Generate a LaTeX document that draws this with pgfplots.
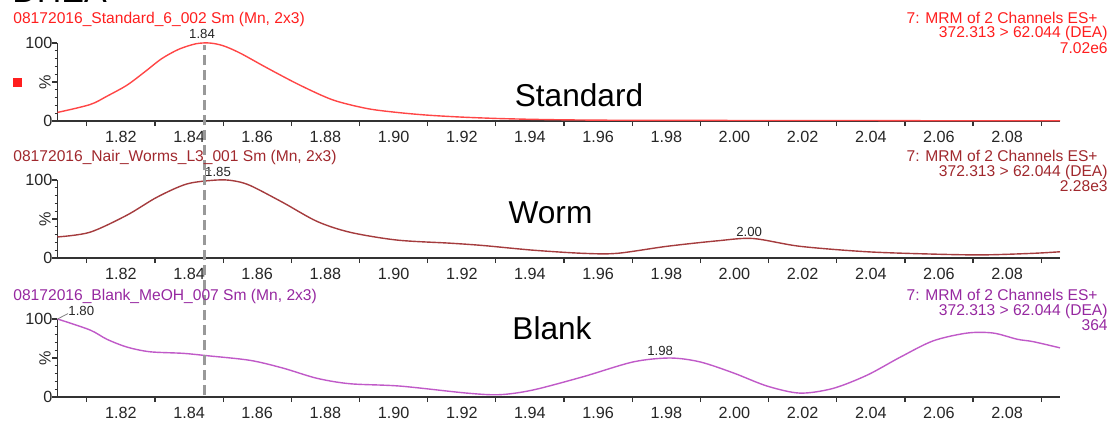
\documentclass[border=0pt]{standalone}
\usepackage{pgfplots}
\pgfplotsset{compat=1.18}
\usepackage{fontspec}
\setmainfont{Liberation Sans}
\definecolor{stdred}{RGB}{255,30,30}
\definecolor{stdline}{RGB}{255,70,70}
\definecolor{wormc}{RGB}{160,40,45}
\definecolor{wormline}{RGB}{165,60,62}
\definecolor{blankc}{RGB}{150,40,160}
\definecolor{blankline}{RGB}{192,90,200}
\newcommand\tf{\fontsize{7.8}{9}\selectfont}
\newcommand\kf{\fontsize{8.1}{9}\selectfont}
\newcommand\af{\fontsize{6.6}{7}\selectfont}
\newcommand\bigf{\fontsize{15.8}{18}\selectfont}
\pgfplotsset{
  chrom/.style={
    scale only axis, width=501.25pt, height=39pt,
    xmin=1.8014, xmax=2.0955, ymin=0, ymax=100,
    axis x line*=bottom, axis y line*=left,
    axis line style={-, line width=0.7pt, black!80},
    every outer x axis line/.append style={-},
    every outer y axis line/.append style={-},
    tick align=outside, clip=false,
    tick style={black!80, line width=0.6pt},
    major tick length=2.5pt, minor tick length=1.4pt,
    xtick={1.81,1.83,1.85,1.87,1.89,1.91,1.93,1.95,1.97,1.99,2.01,2.03,2.05,2.07,2.09},
    xticklabels={1.82,1.84,1.86,1.88,1.90,1.92,1.94,1.96,1.98,2.00,2.02,2.04,2.06,2.08,{}},
    x tick label style={xshift=17.04pt, yshift=-1.5pt, inner sep=1pt, font=\kf, text=black!85},
    ytick={0,50,100}, yticklabels={0,,100},
    minor ytick={10,20,30,40,60,70,80,90},
    y tick label style={xshift=3.5pt, font=\kf, text=black!85},
  }
}
\begin{document}
\begin{tikzpicture}
\useasboundingbox (0,0) rectangle (554.5pt,210pt);
\begin{scope}
\clip (0,0) rectangle (554.5pt,210pt);
\node[anchor=base west, font=\fontsize{17}{18}\selectfont, inner sep=0pt] at (6pt,208.8pt) {DHEA};
\end{scope}

% ---------- Standard ----------
\begin{axis}[chrom, at={(28.75pt,149.5pt)}, anchor=south west]
\addplot[stdline, line width=0.7pt, smooth, tension=0.5] coordinates {
(1.8014,11) (1.8109,21) (1.8160,32) (1.8218,46) (1.8270,63) (1.8320,80) (1.8370,92) (1.8420,99) (1.8460,100) (1.8500,96.5) (1.8550,87) (1.8629,68) (1.8725,46) (1.8822,27) (1.8922,16) (1.9010,11) (1.91,7.5) (1.92,5) (1.93,3.3) (1.94,2.2) (1.95,1.5) (1.96,1.1) (1.97,0.9) (1.98,0.8) (1.99,0.8) (2.00,0.7) (2.02,0.7) (2.04,0.6) (2.05,0.5) (2.06,0.3) (2.08,0.3) (2.0955,0.3)
};
\node[anchor=base, font=\af, text=black!85, inner sep=0pt] at (axis cs:1.8438,106) {1.84};
\node[xshift=-6.25pt, rotate=90, font=\kf, text=black!85] at (rel axis cs:0,0.5) {\%};
\end{axis}

% ---------- Worm ----------
\begin{axis}[chrom, at={(28.75pt,81pt)}, anchor=south west]
\addplot[wormline, line width=0.7pt, smooth, tension=0.5] coordinates {
(1.8014,27) (1.8109,33) (1.8218,55) (1.8306,78) (1.8394,95) (1.8482,100) (1.8530,99) (1.8579,93) (1.8676,71) (1.8775,47) (1.8872,33) (1.9010,23) (1.9166,19) (1.9263,16) (1.9410,10) (1.9556,6) (1.9656,6) (1.9802,15) (1.9949,22) (2.0054,25) (2.0192,15) (2.0389,8) (2.0583,5) (2.0729,4) (2.0876,6) (2.0955,8)
};
\node[anchor=base, font=\af, text=black!85, inner sep=0pt] at (axis cs:1.8485,104.5) {1.85};
\draw[black!50, line width=0.4pt] (axis cs:1.8449,100) |- (axis cs:1.8465,112);
\node[anchor=base, font=\af, text=black!85, inner sep=0pt] at (axis cs:2.0043,27.3) {2.00};
\node[xshift=-6.25pt, rotate=90, font=\kf, text=black!85] at (rel axis cs:0,0.5) {\%};
\end{axis}

% ---------- Blank ----------
\begin{axis}[chrom, at={(28.75pt,11.5pt)}, anchor=south west]
\addplot[blankline, line width=0.7pt, smooth, tension=0.5] coordinates {
(1.8014,100) (1.8109,86) (1.8159,74) (1.8218,64) (1.8285,58) (1.8382,56) (1.8452,53) (1.8579,47) (1.8676,37) (1.8775,24) (1.8872,17) (1.9019,14) (1.9215,5) (1.9312,3) (1.9409,9) (1.9556,26) (1.9703,45) (1.9811,50) (1.9899,45) (1.9996,31) (2.0096,14) (2.0192,5) (2.0289,11) (2.0389,28) (2.0486,51) (2.0583,72) (2.0683,82) (2.0759,82) (2.0830,74) (2.0876,71) (2.0955,63)
};
\node[anchor=base west, font=\af, text=black!85, inner sep=0pt] at (axis cs:1.8045,105) {1.80};
\draw[black!50, line width=0.4pt] (axis cs:1.8014,100) -- (axis cs:1.8045,107);
\node[anchor=base, font=\af, text=black!85, inner sep=0pt] at (axis cs:1.9782,53.8) {1.98};
\node[xshift=-6.25pt, rotate=90, font=\kf, text=black!85] at (rel axis cs:0,0.5) {\%};
\coordinate (dashbot) at (axis cs:1.8445,2);
\end{axis}

\draw[black!40, line width=1.4pt, dash pattern=on 5pt off 2.5pt] (dashbot) -- ++(0,175pt);

% red marker
\fill[stdred] (6.25pt,166.75pt) rectangle (10.75pt,171.25pt);

% titles
\node[anchor=base west, inner sep=0pt, font=\tf, text=stdred] at (6.5pt,198.25pt) {08172016\_Standard\_6\_002 Sm (Mn, 2x3)};
\node[anchor=base west, inner sep=0pt, font=\tf, text=wormc] at (6.5pt,129.15pt) {08172016\_Nair\_Worms\_L3\_001 Sm (Mn, 2x3)};
\node[anchor=base west, inner sep=0pt, font=\tf, text=blankc] at (6.5pt,60pt) {08172016\_Blank\_MeOH\_007 Sm (Mn, 2x3)};

% right info
\foreach \yo/\col/\val in {0/stdred/7.02e6, 69.25/wormc/2.28e3, 138.75/blankc/364}{
  \node[anchor=base east, inner sep=0pt, font=\tf, text=\col] at (549pt,{(198.5-\yo)*1pt}) {7: MRM of 2 Channels ES+};
  \node[anchor=base east, inner sep=0pt, font=\tf, text=\col] at (554pt,{(191.25-\yo)*1pt}) {372.313 > 62.044 (DEA)};
  \node[anchor=base east, inner sep=0pt, font=\tf, text=\col] at (554pt,{(183.5-\yo)*1pt}) {\val};
}

% big labels
\node[anchor=base, inner sep=0pt, font=\bigf] at (289.5pt,157pt) {Standard};
\node[anchor=base, inner sep=0pt, font=\bigf] at (275.25pt,98.35pt) {Worm};
\node[anchor=base, inner sep=0pt, font=\bigf] at (276pt,40.35pt) {Blank};
\end{tikzpicture}
\end{document}
